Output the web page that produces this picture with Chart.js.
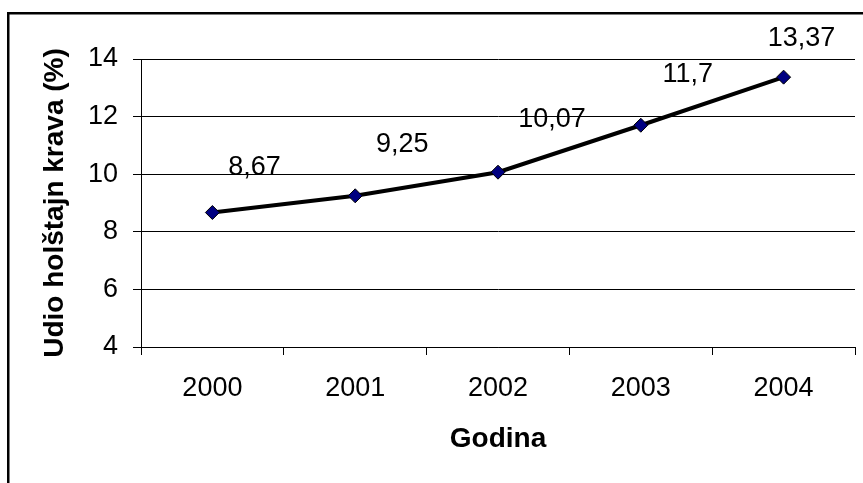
<!DOCTYPE html>
<html>
<head>
<meta charset="utf-8">
<script src="https://cdn.jsdelivr.net/npm/chart.js@4/dist/chart.umd.min.js"></script>
<style>
  html, body { margin: 0; padding: 0; background: #fff; }
  #wrap { position: relative; width: 863px; height: 483px; }
</style>
</head>
<body>
<div id="wrap"><canvas id="c"></canvas></div>
<script>
// Share of Holstein cows by year
const years = ['2000', '2001', '2002', '2003', '2004'];
const shares = [8.67, 9.25, 10.07, 11.7, 13.37];
const valueLabels = ['8,67', '9,25', '10,07', '11,7', '13,37'];
const yTicks = { min: 4, max: 14, step: 2 };

// Where each value label sits relative to its point (px: right, up)
const labelOffsets = [[42, -38], [47, -44], [54, -45], [47, -43], [18, -31]];

const FONT = '"Liberation Sans", Arial, sans-serif';

// Frame line along the left and top edges of the figure
const framePlugin = {
  id: 'frame',
  beforeDraw(chart) {
    const ctx = chart.ctx;
    ctx.save();
    ctx.strokeStyle = '#000';
    ctx.lineWidth = 2.5;
    ctx.beginPath();
    ctx.moveTo(8.25, chart.height + 2);
    ctx.lineTo(8.25, 13.25);
    ctx.lineTo(chart.width + 2, 13.25);
    ctx.stroke();
    ctx.restore();
  }
};

// Value labels beside the points
const valueLabelPlugin = {
  id: 'valueLabels',
  afterDatasetsDraw(chart) {
    const ctx = chart.ctx;
    const meta = chart.getDatasetMeta(0);
    ctx.save();
    ctx.font = '27px ' + FONT;
    ctx.fillStyle = '#000';
    ctx.textAlign = 'center';
    ctx.textBaseline = 'alphabetic';
    meta.data.forEach((pt, i) => {
      const [dx, dy] = labelOffsets[i];
      ctx.fillText(valueLabels[i], pt.x + dx, pt.y + dy);
    });
    ctx.restore();
  }
};

new Chart(document.getElementById('c'), {
  type: 'line',
  data: {
    labels: years,
    datasets: [{
      data: shares,
      borderColor: '#000',
      borderWidth: 4,
      tension: 0,
      fill: false,
      pointStyle: 'rectRot',
      pointRadius: 7,
      pointBackgroundColor: '#000080',
      pointBorderColor: '#000',
      pointBorderWidth: 1
    }]
  },
  options: {
    responsive: true,
    maintainAspectRatio: false,
    animation: false,
    layout: { padding: { left: 0, top: 59, right: 6, bottom: 0 } },
    plugins: {
      legend: { display: false },
      tooltip: { enabled: false }
    },
    scales: {
      x: {
        type: 'category',
        offset: true,
        grid: {
          offset: true,
          drawOnChartArea: false,
          drawTicks: true,
          tickLength: 8,
          color: '#000',
          lineWidth: 1
        },
        border: { display: true, color: '#000', width: 1 },
        ticks: {
          color: '#000',
          padding: 17,
          maxRotation: 0,
          font: { family: FONT, size: 27 }
        },
        title: {
          display: true,
          text: 'Godina',
          color: '#000',
          font: { family: FONT, size: 28, weight: 'bold' },
          padding: { top: 0, bottom: 27 }
        },
        afterFit(axis) { axis.height = 136; }
      },
      y: {
        min: yTicks.min,
        max: yTicks.max,
        grid: {
          color: '#000',
          lineWidth: 1,
          drawTicks: true,
          tickLength: 8
        },
        border: { display: true, color: '#000', width: 1 },
        ticks: {
          stepSize: yTicks.step,
          color: '#000',
          padding: 15,
          font: { family: FONT, size: 27 }
        },
        title: {
          display: true,
          text: 'Udio holštajn krava (%)',
          color: '#000',
          font: { family: FONT, size: 28, weight: 'bold' },
          padding: { top: 38, bottom: 0 }
        },
        afterFit(axis) { axis.width = 141; }
      }
    }
  },
  plugins: [framePlugin, valueLabelPlugin]
});
</script>
</body>
</html>
